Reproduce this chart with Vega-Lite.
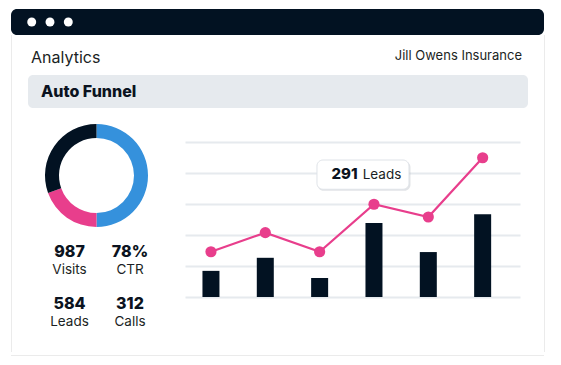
{
  "$schema": "https://vega.github.io/schema/vega-lite/v6.json",
  "background": "white",
  "padding": {"left": 11, "top": 9, "right": 16, "bottom": 12},
  "spacing": 0,
  "config": {"view": {"stroke": null}, "font": "Inter", "text": {"font": "Inter"}},
  "vconcat": [
    {
      "width": 533,
      "height": 26,
      "view": {"fill": "#021222", "stroke": null, "cornerRadius": 6},
      "data": {"values": [{"dot": 1}, {"dot": 2}, {"dot": 3}]},
      "mark": {"type": "point", "filled": true, "size": 80, "color": "white", "opacity": 1},
      "encoding": {
        "x": {"field": "dot", "type": "quantitative", "axis": null, "scale": {"domain": [1, 3], "range": [20.7, 57.3], "nice": false, "zero": false}}
      }
    },
    {
      "hconcat": [
        {"width": 1, "height": 317, "view": {"fill": "#ebebeb", "stroke": null}, "data": {"values": []}, "mark": "point"},
        {
          "vconcat": [
            {
              "width": 500,
              "height": 40,
              "data": {"values": [{"side": "left", "label": "Analytics"}, {"side": "right", "label": "Jill Owens Insurance"}]},
              "encoding": {
                "x": {"field": "side", "type": "nominal", "axis": null, "scale": {"type": "point", "domain": ["left", "right"], "range": [3, 494], "padding": 0}},
                "text": {"field": "label"}
              },
              "layer": [
                {"transform": [{"filter": "datum.side === 'left'"}], "mark": {"type": "text", "align": "left", "baseline": "alphabetic", "fontSize": 16, "dy": 8, "color": "#1b1f24"}},
                {"transform": [{"filter": "datum.side === 'right'"}], "mark": {"type": "text", "align": "right", "baseline": "alphabetic", "fontSize": 13, "dy": 5, "color": "#1b1f24"}}
              ]
            },
            {
              "width": 500,
              "height": 33,
              "view": {"fill": "#e6eaee", "stroke": null, "cornerRadius": 5},
              "data": {"values": [{"label": "Auto Funnel"}]},
              "mark": {"type": "text", "align": "left", "baseline": "alphabetic", "fontSize": 16, "fontWeight": 800, "dy": 5.5, "color": "#0b1320"},
              "encoding": {
                "x": {"field": "label", "type": "nominal", "axis": null, "scale": {"type": "point", "range": [13, 13]}},
                "text": {"field": "label"}
              }
            },
            {
              "hconcat": [
                {
                  "vconcat": [
                    {
                      "width": 137,
                      "height": 135,
                      "data": {"values": [
                        {"segment": "Visits", "share": 50, "rank": 1},
                        {"segment": "Leads", "share": 19.5, "rank": 2},
                        {"segment": "Calls", "share": 30.5, "rank": 3}
                      ]},
                      "mark": {"type": "arc", "innerRadius": 37.5, "outerRadius": 51.5},
                      "encoding": {
                        "theta": {"field": "share", "type": "quantitative", "stack": true},
                        "color": {"field": "segment", "type": "nominal", "legend": null, "scale": {"domain": ["Visits", "Leads", "Calls"], "range": ["#3591dc", "#e83e8c", "#021222"]}},
                        "order": {"field": "rank", "type": "ordinal"}
                      }
                    },
                    {
                      "width": 137,
                      "height": 109,
                      "data": {"values": [
                        {"metric": "Visits", "value": "987", "col": "left", "row": "top"},
                        {"metric": "CTR", "value": "78%", "col": "right", "row": "top"},
                        {"metric": "Leads", "value": "584", "col": "left", "row": "bottom"},
                        {"metric": "Calls", "value": "312", "col": "right", "row": "bottom"}
                      ]},
                      "encoding": {
                        "x": {"field": "col", "type": "nominal", "axis": null, "scale": {"type": "point", "domain": ["left", "right"], "range": [41.5, 102], "padding": 0}},
                        "y": {"field": "row", "type": "nominal", "axis": null, "scale": {"type": "point", "domain": ["top", "bottom"], "range": [10.5, 63], "padding": 0}}
                      },
                      "layer": [
                        {"mark": {"type": "text", "align": "center", "baseline": "alphabetic", "fontSize": 16, "fontWeight": 800, "color": "#0b1320"}, "encoding": {"text": {"field": "value"}}},
                        {"mark": {"type": "text", "align": "center", "baseline": "alphabetic", "fontSize": 13.5, "dy": 17, "color": "#1b1f24"}, "encoding": {"text": {"field": "metric"}}}
                      ]
                    }
                  ],
                  "spacing": 0
                },
                {
                  "width": 335,
                  "height": 189,
                  "data": {"values": [
                    {"month": "Jan", "calls": 82, "leads": 142},
                    {"month": "Feb", "calls": 123, "leads": 202},
                    {"month": "Mar", "calls": 60, "leads": 142},
                    {"month": "Apr", "calls": 232, "leads": 291},
                    {"month": "May", "calls": 141, "leads": 251},
                    {"month": "Jun", "calls": 260, "leads": 437}
                  ]},
                  "encoding": {
                    "x": {"field": "month", "type": "ordinal", "sort": null, "axis": null, "scale": {"type": "point", "padding": 0.5825, "align": 0.41}}
                  },
                  "layer": [
                    {
                      "mark": {"type": "bar", "width": 17, "color": "#021222"},
                      "encoding": {
                        "y": {"field": "calls", "type": "quantitative", "scale": {"domain": [0, 593], "nice": false},
                          "axis": {"values": [0, 97, 194, 291, 388, 485], "grid": true, "gridColor": "#e6eaee", "gridWidth": 2, "domain": false, "ticks": false, "labels": false, "title": null}}
                      }
                    },
                    {"mark": {"type": "line", "color": "#e83e8c", "strokeWidth": 2.2}, "encoding": {"y": {"field": "leads", "type": "quantitative", "axis": {"values": [0, 97, 194, 291, 388, 485], "grid": true, "gridColor": "#e6eaee", "gridWidth": 2, "domain": false, "ticks": false, "labels": false, "title": null}}}},
                    {"mark": {"type": "point", "filled": true, "size": 125, "color": "#e83e8c", "opacity": 1}, "encoding": {"y": {"field": "leads", "type": "quantitative", "axis": {"values": [0, 97, 194, 291, 388, 485], "grid": true, "gridColor": "#e6eaee", "gridWidth": 2, "domain": false, "ticks": false, "labels": false, "title": null}}}},
                    {
                      "transform": [{"filter": "datum.month === 'Apr'"}],
                      "mark": {"type": "bar", "width": 93, "cornerRadius": 6, "color": "#8a94a0", "opacity": 0.25, "xOffset": -10, "yOffset": -43, "y2Offset": -13.5},
                      "encoding": {"y": {"field": "leads", "type": "quantitative", "axis": {"values": [0, 97, 194, 291, 388, 485], "grid": true, "gridColor": "#e6eaee", "gridWidth": 2, "domain": false, "ticks": false, "labels": false, "title": null}}, "y2": {"field": "leads"}}
                    },
                    {
                      "transform": [{"filter": "datum.month === 'Apr'"}],
                      "mark": {"type": "bar", "width": 92, "cornerRadius": 6, "fill": "white", "stroke": "#dfe3e8", "strokeWidth": 1, "xOffset": -11, "yOffset": -44.25, "y2Offset": -15},
                      "encoding": {"y": {"field": "leads", "type": "quantitative", "axis": {"values": [0, 97, 194, 291, 388, 485], "grid": true, "gridColor": "#e6eaee", "gridWidth": 2, "domain": false, "ticks": false, "labels": false, "title": null}}, "y2": {"field": "leads"}}
                    },
                    {
                      "transform": [{"filter": "datum.month === 'Apr'"}],
                      "mark": {"type": "text", "align": "right", "baseline": "alphabetic", "fontWeight": 800, "fontSize": 15, "color": "#0b1320", "dx": -16.3, "dy": -25},
                      "encoding": {"y": {"field": "leads", "type": "quantitative", "axis": {"values": [0, 97, 194, 291, 388, 485], "grid": true, "gridColor": "#e6eaee", "gridWidth": 2, "domain": false, "ticks": false, "labels": false, "title": null}}, "text": {"field": "leads", "type": "quantitative"}}
                    },
                    {
                      "transform": [{"filter": "datum.month === 'Apr'"}],
                      "mark": {"type": "text", "align": "left", "baseline": "alphabetic", "fontSize": 13.5, "color": "#1b1f24", "dx": -11.3, "dy": -25, "text": "Leads"},
                      "encoding": {"y": {"field": "leads", "type": "quantitative", "axis": {"values": [0, 97, 194, 291, 388, 485], "grid": true, "gridColor": "#e6eaee", "gridWidth": 2, "domain": false, "ticks": false, "labels": false, "title": null}}}
                    }
                  ]
                }
              ],
              "spacing": 20
            }
          ],
          "spacing": 0
        },
        {"width": 1, "height": 317, "view": {"fill": "#ebebeb", "stroke": null}, "data": {"values": []}, "mark": "point"}
      ],
      "spacing": 16
    },
    {"width": 533, "height": 1, "view": {"fill": "#ebebeb", "stroke": null}, "data": {"values": []}, "mark": "point"}
  ]
}
